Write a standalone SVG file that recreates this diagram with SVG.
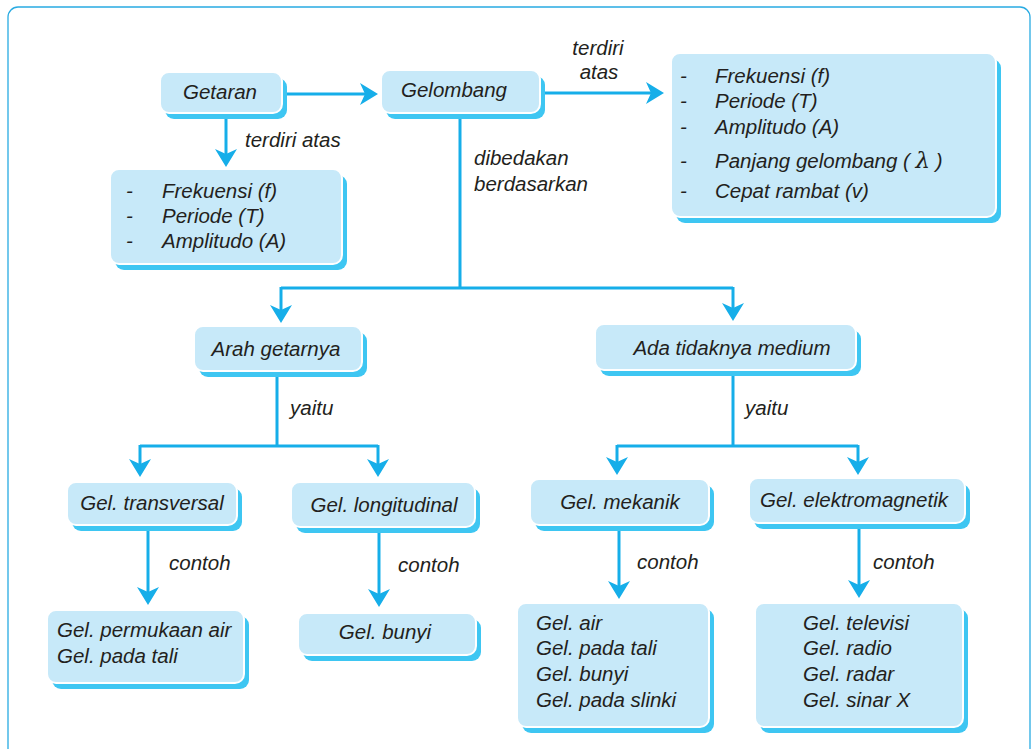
<svg xmlns="http://www.w3.org/2000/svg" width="1032" height="749" viewBox="0 0 1032 749">
<style>
.sh{fill:#3ec6f2}
.bx{fill:#c7e9f9;stroke:#ffffff;stroke-width:2}
text{font-family:"Liberation Sans",Arial,sans-serif;font-style:italic;font-size:20.5px;fill:#231f20}
.c{text-anchor:middle}
.ln{fill:none;stroke:#16aee9;stroke-width:3}
.ar{marker-end:url(#ah)}
</style>
<defs>
<marker id="ah" markerUnits="userSpaceOnUse" markerWidth="18" markerHeight="22" viewBox="0 0 18 22" refX="5" refY="11" orient="auto">
<path d="M0,0 L18,11 L0,22 L5,11 Z" fill="#16aee9"/>
</marker>
</defs>
<rect x="8" y="7" width="1022" height="770" rx="10" fill="#ffffff" stroke="#29abe2" stroke-width="1.3"/>
<g id="connectors">
<path class="ln ar" d="M226,117 V154"/>
<path class="ln ar" d="M287,94 H365"/>
<path class="ln ar" d="M545,93 H651"/>
<path class="ln" d="M460,118 V288 M281,288 H733"/>
<path class="ln ar" d="M281,287 V310"/>
<path class="ln ar" d="M733,287 V308"/>
<path class="ln" d="M277,376 V446 M140,446 H378"/>
<path class="ln ar" d="M140,445 V464"/>
<path class="ln ar" d="M378,445 V464"/>
<path class="ln" d="M733,375 V446 M617,446 H858"/>
<path class="ln ar" d="M617,445 V462"/>
<path class="ln ar" d="M858,445 V462"/>
<path class="ln ar" d="M148,531 V592"/>
<path class="ln ar" d="M379,533 V594"/>
<path class="ln ar" d="M619,531 V586"/>
<path class="ln ar" d="M859,529 V585"/>
<text x="245" y="147">terdiri atas</text>
<text class="c" x="598" y="55">terdiri</text>
<text class="c" x="599" y="79">atas</text>
<text x="474" y="165">dibedakan</text>
<text x="474" y="191">berdasarkan</text>
<text x="290" y="415">yaitu</text>
<text x="745" y="415">yaitu</text>
<text x="169" y="570">contoh</text>
<text x="398" y="572">contoh</text>
<text x="637" y="569">contoh</text>
<text x="873" y="569">contoh</text>
</g>
<g id="getaran">
<rect class="sh" x="165" y="78" width="122" height="41" rx="9"/>
<rect class="bx" x="160" y="72" width="122" height="41" rx="9"/>
<text class="c" x="220" y="99">Getaran</text>
</g>
<g id="getaran-list">
<rect class="sh" x="115" y="175" width="232" height="95" rx="9"/>
<rect class="bx" x="110" y="169" width="232" height="95" rx="9"/>
<text x="126" y="198">-</text><text x="162" y="198">Frekuensi (f)</text>
<text x="126" y="223">-</text><text x="162" y="223">Periode (T)</text>
<text x="126" y="248">-</text><text x="162" y="248">Amplitudo (A)</text>
</g>
<g id="gelombang">
<rect class="sh" x="386" y="76" width="159" height="43" rx="9"/>
<rect class="bx" x="381" y="70" width="159" height="43" rx="9"/>
<text class="c" x="454" y="97">Gelombang</text>
</g>
<g id="gelombang-list">
<rect class="sh" x="676" y="59" width="325" height="164" rx="9"/>
<rect class="bx" x="671" y="53" width="325" height="164" rx="9"/>
<text x="680" y="83">-</text><text x="715" y="83">Frekuensi (f)</text>
<text x="680" y="108">-</text><text x="715" y="108">Periode (T)</text>
<text x="680" y="134">-</text><text x="715" y="134">Amplitudo (A)</text>
<text x="680" y="168">-</text><text x="715" y="168">Panjang gelombang ( <tspan font-family="'DejaVu Serif',serif" font-size="23">λ</tspan> )</text>
<text x="680" y="198">-</text><text x="715" y="198">Cepat rambat (v)</text>
</g>
<g id="arah">
<rect class="sh" x="199" y="332" width="168" height="45" rx="9"/>
<rect class="bx" x="194" y="326" width="168" height="45" rx="9"/>
<text class="c" x="276" y="356">Arah getarnya</text>
</g>
<g id="ada">
<rect class="sh" x="600" y="330" width="261" height="46" rx="9"/>
<rect class="bx" x="595" y="324" width="261" height="46" rx="9"/>
<text class="c" x="732" y="355">Ada tidaknya medium</text>
</g>
<g id="transversal">
<rect class="sh" x="72" y="488" width="170" height="43" rx="9"/>
<rect class="bx" x="67" y="482" width="170" height="43" rx="9"/>
<text class="c" x="152" y="510">Gel. transversal</text>
</g>
<g id="longitudinal">
<rect class="sh" x="296" y="488" width="184" height="45" rx="9"/>
<rect class="bx" x="291" y="482" width="184" height="45" rx="9"/>
<text class="c" x="384" y="512">Gel. longitudinal</text>
</g>
<g id="mekanik">
<rect class="sh" x="535" y="485" width="179" height="46" rx="9"/>
<rect class="bx" x="530" y="479" width="179" height="46" rx="9"/>
<text class="c" x="620" y="509">Gel. mekanik</text>
</g>
<g id="elektromagnetik">
<rect class="sh" x="754" y="484" width="216" height="45" rx="9"/>
<rect class="bx" x="749" y="478" width="216" height="45" rx="9"/>
<text class="c" x="854" y="507">Gel. elektromagnetik</text>
</g>
<g id="contoh-transversal">
<rect class="sh" x="52" y="616" width="197" height="73" rx="9"/>
<rect class="bx" x="47" y="610" width="197" height="73" rx="9"/>
<text x="57" y="637">Gel. permukaan air</text>
<text x="57" y="663">Gel. pada tali</text>
</g>
<g id="contoh-longitudinal">
<rect class="sh" x="303" y="619" width="178" height="42" rx="9"/>
<rect class="bx" x="298" y="613" width="178" height="42" rx="9"/>
<text class="c" x="385" y="639">Gel. bunyi</text>
</g>
<g id="contoh-mekanik">
<rect class="sh" x="522" y="609" width="192" height="124" rx="9"/>
<rect class="bx" x="517" y="603" width="192" height="124" rx="9"/>
<text x="536" y="630">Gel. air</text>
<text x="536" y="655">Gel. pada tali</text>
<text x="536" y="681">Gel. bunyi</text>
<text x="536" y="707">Gel. pada slinki</text>
</g>
<g id="contoh-elektromagnetik">
<rect class="sh" x="760" y="609" width="208" height="124" rx="9"/>
<rect class="bx" x="755" y="603" width="208" height="124" rx="9"/>
<text x="803" y="630">Gel. televisi</text>
<text x="803" y="655">Gel. radio</text>
<text x="803" y="681">Gel. radar</text>
<text x="803" y="707">Gel. sinar X</text>
</g>
</svg>
